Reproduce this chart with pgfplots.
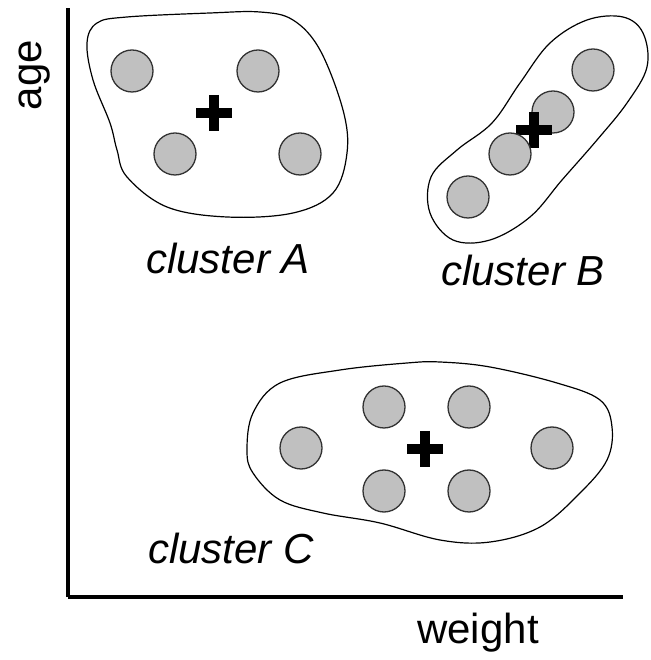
\documentclass[border=0pt]{standalone}
\usepackage{pgfplots}
\pgfplotsset{compat=1.18}
\usepackage{fontspec}
\setmainfont{Liberation Sans}
\definecolor{ptfill}{RGB}{192,192,192}
\definecolor{ptedge}{RGB}{50,50,50}
\begin{document}
\begin{tikzpicture}[x=1pt,y=1pt]
\begin{axis}[
  scale only axis,
  width=555pt, height=589pt,
  xmin=68, xmax=623, ymin=63, ymax=652,
  axis lines=left,
  axis line style={line width=4pt,-},
  xtick=\empty, ytick=\empty,
  clip=false,
]
% invisible bounding box matching 648x660
\path (axis cs:0,0) rectangle (axis cs:648,660);
% cluster outlines
\addplot[black, line width=1.2pt, smooth cycle, tension=0.6] coordinates {
(87,617)(97,637)(127,643)(210,647)(260,648)(293,640)(320,610)(343,550)(347,507)(333,467)(293,447)(227,443)(167,453)(127,483)(117,510)(110,537)(93,580)};
\addplot[black, line width=1.2pt, smooth cycle, tension=0.6] coordinates {
(623,643)(643,627)(647,593)(627,557)(597,520)(562,480)(530,443)(490,420)(453,420)(430,447)(431,483)(457,510)(492,537)(520,577)(550,617)(587,640)};
\addplot[black, line width=1.2pt, smooth cycle, tension=0.6] coordinates {
(247,210)(253,247)(280,277)(340,290)(407,297)(440,298)(490,293)(557,277)(600,260)(612,233)(607,200)(580,167)(540,133)(490,118)(440,120)(380,137)(323,147)(280,160)(253,187)};
% points
\addplot[only marks, mark=*, mark size=21pt, mark options={fill=ptfill, draw=ptedge, line width=1.3pt}] coordinates {
(132,589)(258,589)(175,506)(300,506)};
\addplot[only marks, mark=*, mark size=21pt, mark options={fill=ptfill, draw=ptedge, line width=1.3pt}] coordinates {
(593,590)(553,548)};
% centroid B drawn between points
\addplot[only marks, mark=+, mark size=18pt, mark options={draw=black, line width=10pt}] coordinates {(534,530)};
\addplot[only marks, mark=*, mark size=21pt, mark options={fill=ptfill, draw=ptedge, line width=1.3pt}] coordinates {
(510,506)(468,463)};
\addplot[only marks, mark=*, mark size=21pt, mark options={fill=ptfill, draw=ptedge, line width=1.3pt}] coordinates {
(301,212)(384,253)(469,253)(384,169)(469,169)(552,212)};
% centroids
\addplot[only marks, mark=+, mark size=18pt, mark options={draw=black, line width=10pt}] coordinates {
(214,547)(425,211)};
% labels
\node[font=\fontsize{42}{48}\selectfont\itshape] at (axis cs:228,402) {cluster A};
\node[font=\fontsize{42}{48}\selectfont\itshape] at (axis cs:523,390) {cluster B};
\node[font=\fontsize{42}{48}\selectfont\itshape] at (axis cs:231,112) {cluster C};
\node[font=\fontsize{42}{48}\selectfont] at (axis cs:478,27) {weight};
\node[font=\fontsize{42}{48}\selectfont, rotate=90] at (axis cs:35,585) {age};
\end{axis}
\end{tikzpicture}
\end{document}
